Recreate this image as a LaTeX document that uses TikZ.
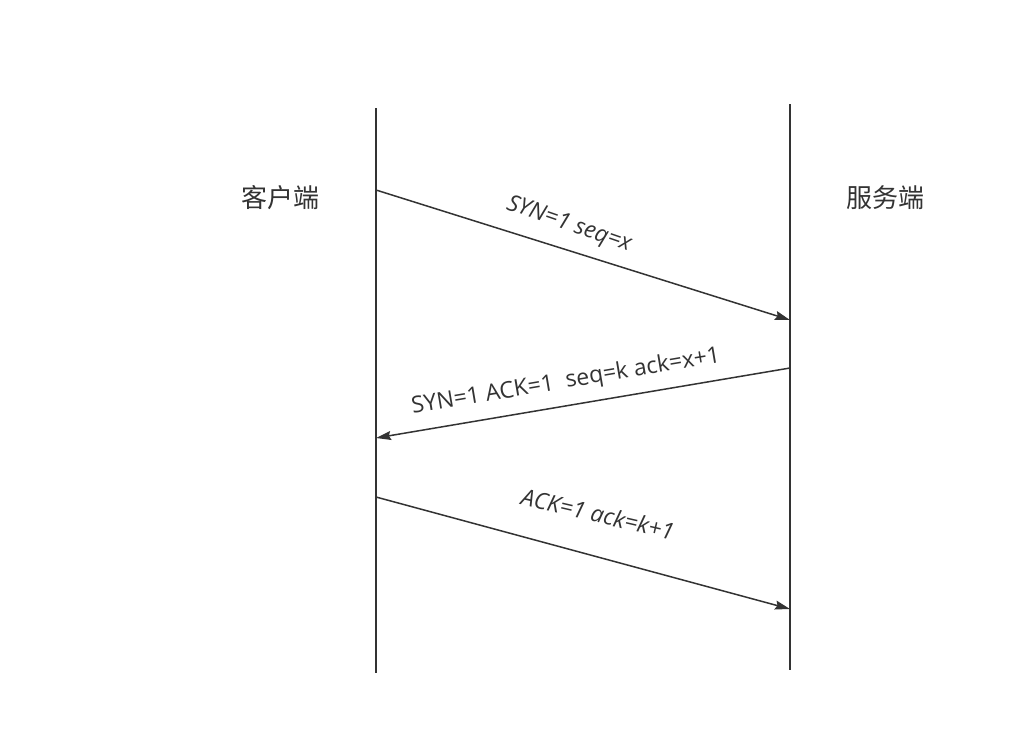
\documentclass[tikz,border=0pt]{standalone}
\usepackage{fontspec}
\setmainfont{Open Sans}
\newfontfamily\cjk{Noto Sans CJK SC}
\usetikzlibrary{arrows.meta,calc}
\definecolor{ink}{HTML}{333333}
\tikzset{
  lifeline/.style={draw=ink, line width=1.7pt},
  msg/.style={draw=ink, line width=1.5pt, -{Stealth[length=15pt,width=9pt,inset=2pt]}},
  party/.style={font=\cjk\fontsize{26}{30}\selectfont, text=ink, inner sep=0pt},
  msglabel/.style={font=\fontsize{23}{27}\selectfont, text=ink, inner sep=0pt},
}
\begin{document}
\begin{tikzpicture}[x=1pt,y=-1pt]
\useasboundingbox (0,0) rectangle (1015,736);
% lifelines
\coordinate (cTop) at (376,108);
\coordinate (cBot) at (376,673);
\coordinate (sTop) at (790,104);
\coordinate (sBot) at (790,670);
\draw[lifeline] (cTop) -- (cBot);
\draw[lifeline] (sTop) -- (sBot);
% parties
\node[party] (client) at (280,198) {客户端};
\node[party] (server) at (885,198) {服务端};
% message endpoints
\coordinate (m1a) at (376,190);
\coordinate (m1b) at (790,320);
\coordinate (m2a) at (790,368);
\coordinate (m2b) at (376,438);
\coordinate (m3a) at (376,497);
\coordinate (m3b) at (790,609);
\draw[msg] (m1a) -- (m1b);
\draw[msg] (m2a) -- (m2b);
\draw[msg] (m3a) -- (m3b);
% labels
\node[msglabel, rotate=-19] (l1) at (569,225) {\itshape SYN=1 seq=x};
\node[msglabel, rotate=9.6] (l2) at (566,382) {SYN=1 ACK=1\ \ seq=k ack=x+1};
\node[msglabel, rotate=-13] (l3) at (598,514) {\itshape ACK=1 ack=k+1};
\end{tikzpicture}
\end{document}
